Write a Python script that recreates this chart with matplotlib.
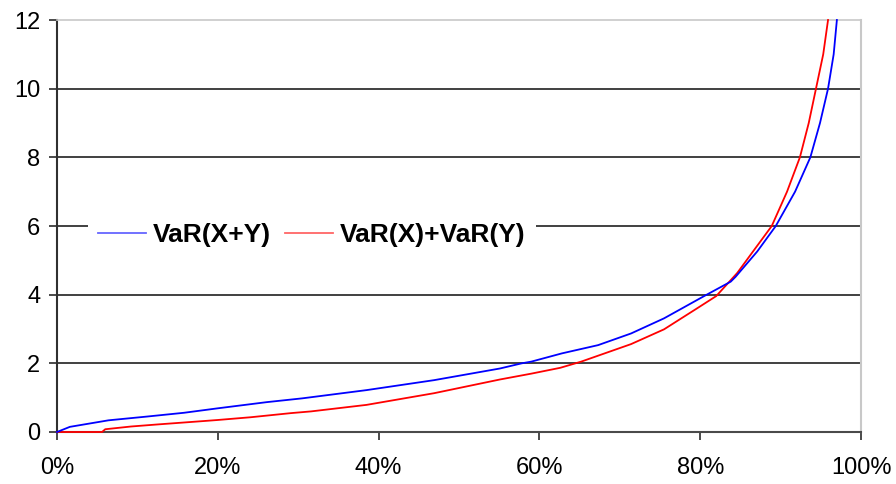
import matplotlib
matplotlib.use("Agg")
import matplotlib.pyplot as plt
from matplotlib.ticker import FuncFormatter

plt.rcParams['font.family'] = ['Liberation Sans', 'DejaVu Sans']

# Data (x in percent of probability level)
blue_x = [0, 1.6, 6.4, 11.2, 15.8, 20, 26.1, 30.5, 38.5, 46.9, 55.1, 57.8,
          59, 62.8, 67.3, 71.4, 75.5, 80.5, 83.8, 84.4, 87.1, 89.4, 91.8,
          93.7, 94.9, 95.9, 96.6, 97.0]
blue_y = [0.0, 0.15, 0.34, 0.45, 0.56, 0.69, 0.87, 0.98, 1.22, 1.51, 1.85, 2.0,
          2.05, 2.29, 2.53, 2.87, 3.31, 3.96, 4.38, 4.52, 5.26, 6.0, 7.0,
          8.0, 9.0, 10.0, 11.0, 12.0]

red_x = [0, 5.6, 6.0, 9.2, 12.5, 18.3, 20, 24.1, 29.1, 31.6, 38.5, 46.9,
         55.1, 59, 62.6, 65.2, 71.4, 75.5, 79.6, 82, 84.6, 86.7, 88.9,
         90.8, 92.4, 93.5, 94.4, 95.3, 95.9]
red_y = [0.0, 0.0, 0.08, 0.16, 0.22, 0.32, 0.35, 0.43, 0.55, 0.6, 0.79, 1.13,
         1.53, 1.70, 1.87, 2.05, 2.56, 2.99, 3.60, 3.96, 4.63, 5.30, 6.0,
         7.0, 8.0, 9.0, 10.0, 11.0, 12.0]

labels = ["VaR(X+Y)", "VaR(X)+VaR(Y)"]
x_ticks = [0, 20, 40, 60, 80, 100]
y_ticks = [0, 2, 4, 6, 8, 10, 12]

fig = plt.figure(figsize=(8.96, 4.84), dpi=100)
ax = fig.add_axes([57/896, 1 - 432/484, 804/896, 412/484])

ax.set_xlim(0, 100)
ax.set_ylim(0, 12)

for y in y_ticks[1:-1]:
    ax.axhline(y, color='#404040', lw=1.4, zorder=1)

ax.plot(blue_x, blue_y, color='#0000FF', lw=1.3, label=labels[0], zorder=4,
        clip_on=False)
ax.plot(red_x, red_y, color='#FF0000', lw=1.3, label=labels[1], zorder=3,
        clip_on=False)

ax.set_xticks(x_ticks)
ax.set_yticks(y_ticks)
ax.xaxis.set_major_formatter(FuncFormatter(lambda v, p: f"{int(v)}%"))
ax.tick_params(axis='both', labelsize=17, direction='out', length=6,
               width=1.4, color='#4a4a4a', labelcolor='black')
ax.tick_params(axis='x', pad=12)
ax.tick_params(axis='y', pad=6)

ax.spines['left'].set_color('#303030')
ax.spines['left'].set_linewidth(1.5)
ax.spines['bottom'].set_color('#4a4a4a')
ax.spines['bottom'].set_linewidth(1.5)
ax.spines['top'].set_color('#c8c8c8')
ax.spines['top'].set_linewidth(1.2)
ax.spines['right'].set_color('#c8c8c8')
ax.spines['right'].set_linewidth(1.5)
for s in ax.spines.values():
    s.set_zorder(2)

leg = ax.legend(loc='center left', bbox_to_anchor=(0.038, 0.478), ncol=2,
                frameon=True, fancybox=False, framealpha=1.0,
                prop={'size': 19, 'weight': 'bold'},
                handlelength=1.8, handletextpad=0.27, columnspacing=0.55,
                borderpad=0.4, borderaxespad=0.0)
leg.get_frame().set_facecolor('white')
leg.get_frame().set_edgecolor('none')
for h in leg.get_lines():
    h.set_linewidth(1.3)
leg.get_lines()[0].set_color('#6666FF')
leg.get_lines()[1].set_color('#FF6666')
leg.set_zorder(5)

fig.savefig("out.png", dpi=100)
